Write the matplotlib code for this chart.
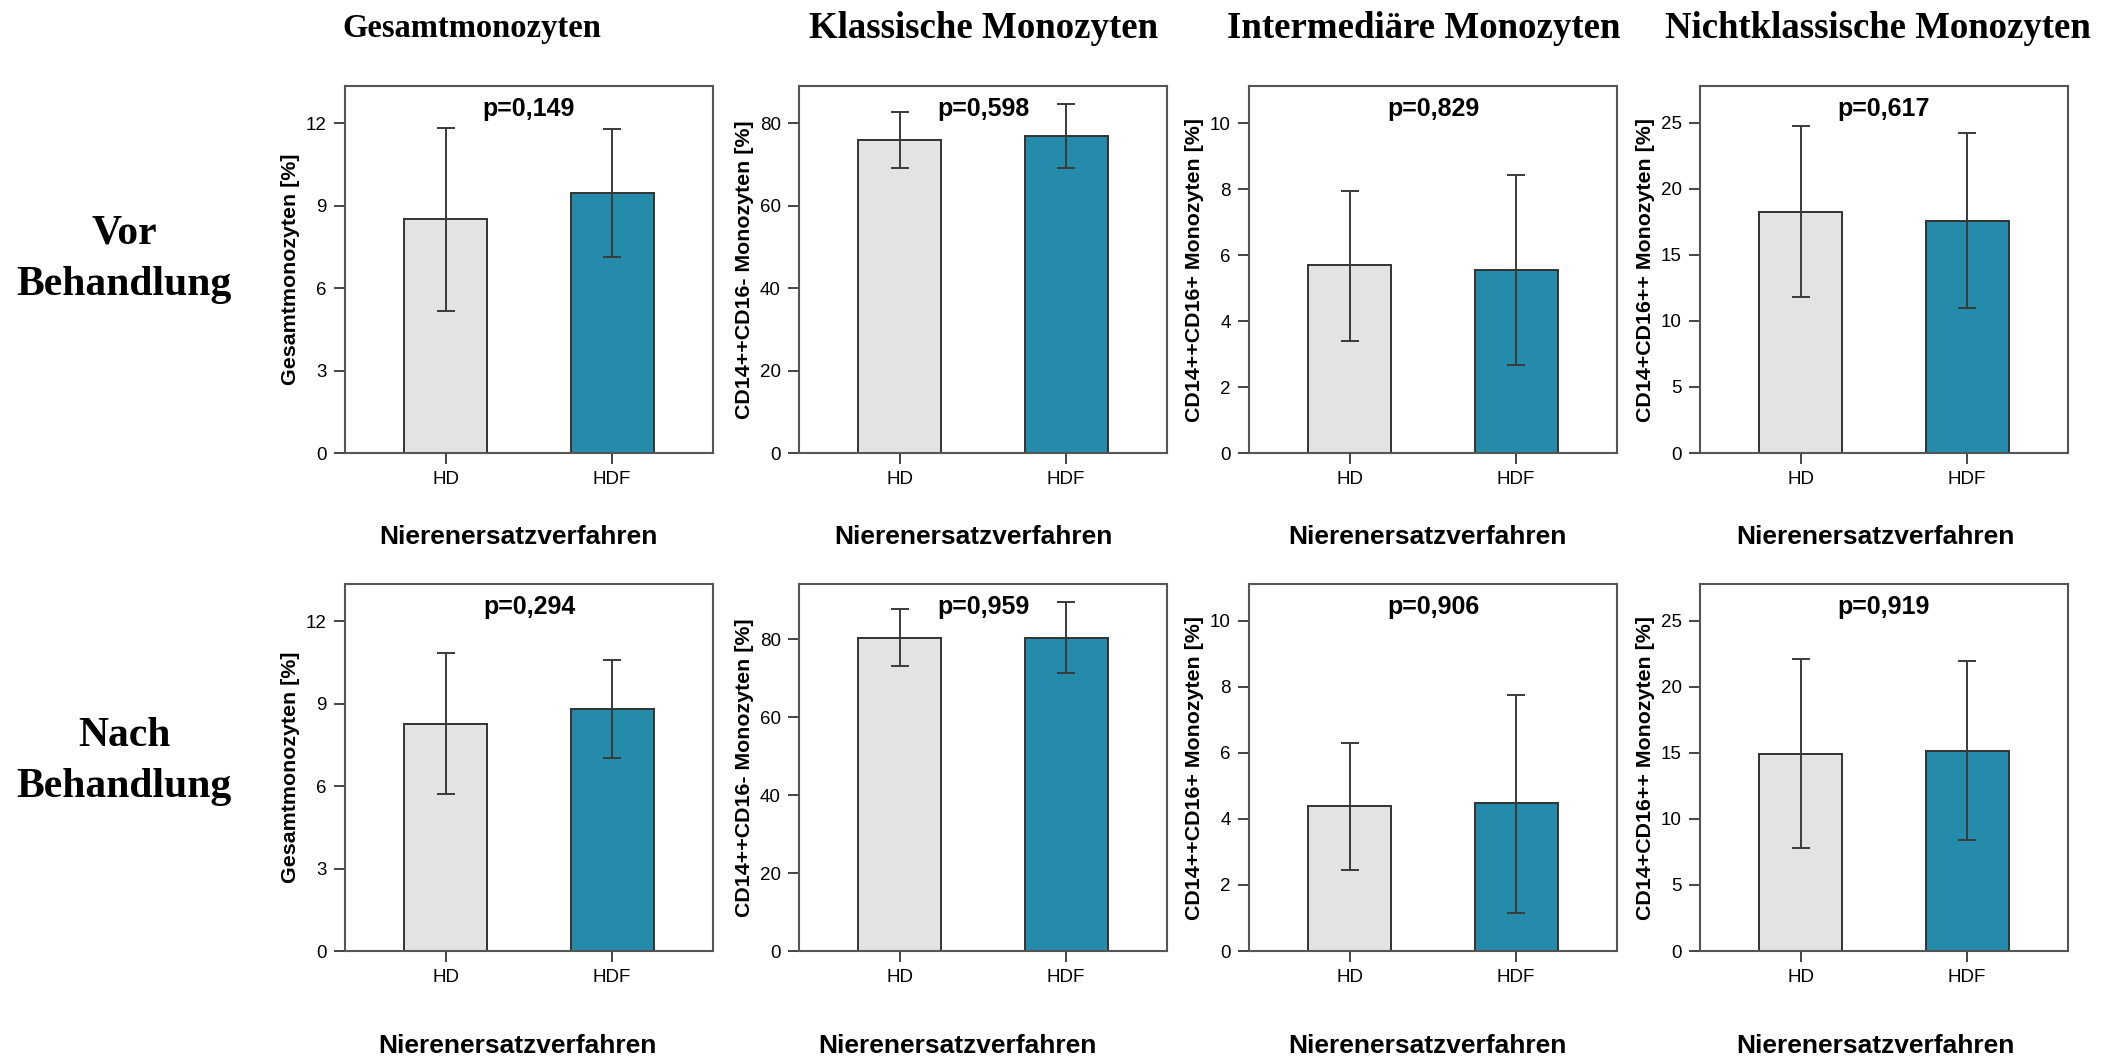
import matplotlib
matplotlib.use("Agg")
import matplotlib.pyplot as plt

# Gruppen und Werte (Mittelwert, untere/obere Fehlerbalkengrenze) je Monozyten-Subpopulation
categories = ["HD", "HDF"]
columns = ["Gesamtmonozyten", "Klassische Monozyten",
           "Intermediäre Monozyten", "Nichtklassische Monozyten"]
ylabels = ["Gesamtmonozyten [%]", "CD14++CD16- Monozyten [%]",
           "CD14++CD16+ Monozyten [%]", "CD14+CD16++ Monozyten [%]"]
rows = [("Vor", "Behandlung"), ("Nach", "Behandlung")]

vor_means = [[8.50, 9.47], [76.1, 76.9], [5.69, 5.56], [18.29, 17.59]]
vor_lower = [[5.16, 7.12], [69.3, 69.1], [3.41, 2.68], [11.81, 10.98]]
vor_upper = [[11.83, 11.78], [82.8, 84.7], [7.95, 8.44], [24.78, 24.22]]
vor_p = ["0,149", "0,598", "0,829", "0,617"]

nach_means = [[8.27, 8.81], [80.5, 80.4], [4.38, 4.47], [14.93, 15.11]]
nach_lower = [[5.71, 7.01], [73.3, 71.3], [2.45, 1.16], [7.82, 8.38]]
nach_upper = [[10.83, 10.60], [87.8, 89.6], [6.30, 7.76], [22.09, 21.94]]
nach_p = ["0,294", "0,959", "0,906", "0,919"]

yticks = [[0, 3, 6, 9, 12], [0, 20, 40, 60, 80], [0, 2, 4, 6, 8, 10], [0, 5, 10, 15, 20, 25]]
ymax = [[13.35, 89.1, 11.13, 27.8], [13.35, 94.25, 11.11, 27.79]]

bar_colors = ["#e3e3e3", "#258bab"]
edge = "#333333"

W, H = 2119, 1059
fig = plt.figure(figsize=(W / 100, H / 100), dpi=100)

# Lage der Achsen in Pixeln
col_left = [345, 799, 1249, 1700]
row_top = [86, 584]
ax_w, ax_h = 368, 367

sans = ["Liberation Sans", "DejaVu Sans"]
serif = ["Liberation Serif", "DejaVu Serif"]

data = [(vor_means, vor_lower, vor_upper, vor_p),
        (nach_means, nach_lower, nach_upper, nach_p)]

for r, (means, lower, upper, pvals) in enumerate(data):
    for c in range(4):
        rect = [col_left[c] / W, 1 - (row_top[r] + ax_h) / H, ax_w / W, ax_h / H]
        ax = fig.add_axes(rect)
        x = [0, 1]
        m = means[c]
        err = [[m[i] - lower[c][i] for i in range(2)],
               [upper[c][i] - m[i] for i in range(2)]]
        ax.bar(x, m, width=0.5, color=bar_colors, edgecolor=edge, linewidth=1.4, zorder=2)
        ax.errorbar(x, m, yerr=err, fmt="none", ecolor="#3a3a3a", elinewidth=1.4,
                    capsize=6.5, capthick=1.4, zorder=3)
        ax.set_xlim(-0.608, 1.608)
        ax.set_ylim(0, ymax[r][c])
        ax.set_yticks(yticks[c])
        ax.set_xticks(x)
        ax.set_xticklabels(categories, fontfamily=sans, fontsize=13.5)
        for lab in ax.get_yticklabels():
            lab.set_fontfamily(sans)
            lab.set_fontsize(13.5)
        ax.tick_params(axis="both", length=8, width=1.4, color="#444444", pad=5)
        for s in ax.spines.values():
            s.set_color("#555555")
            s.set_linewidth(1.5)
        ax.set_ylabel(ylabels[c], fontfamily=sans, fontsize=15.4, fontweight="bold")
        ax.yaxis.set_label_coords(-0.123, 0.5)
        ax.text(0.5, 0.937, "p=" + pvals[c], transform=ax.transAxes, ha="center",
                va="center", fontfamily=sans, fontsize=18, fontweight="bold")

# x-Achsentitel unter jedem Diagramm
xlabel_y = [537, 1046]
xlabel_dx = [[-11, -10, -6, -9], [-12, -26, -6, -9]]
for r in range(2):
    for c in range(4):
        cx = (col_left[c] + ax_w / 2 + xlabel_dx[r][c]) / W
        fig.text(cx, 1 - xlabel_y[r] / H, "Nierenersatzverfahren", ha="center",
                 va="center", fontfamily=sans, fontsize=19, fontweight="bold")

# Spaltenüberschriften
title_x = [472, 984, 1424, 1878]
title_size = [23.5, 26.6, 26.6, 26.5]
for c in range(4):
    fig.text(title_x[c] / W, 1 - 29 / H, columns[c], ha="center", va="center",
             fontfamily=serif, fontsize=title_size[c], fontweight="bold")

# Zeilenbeschriftungen
row_y = [(233, 285), (736, 787)]
for r in range(2):
    for line, y in zip(rows[r], row_y[r]):
        fig.text(124 / W, 1 - y / H, line, ha="center", va="center",
                 fontfamily=serif, fontsize=30, fontweight="bold")

fig.savefig("out.png", dpi=100, facecolor="white")
